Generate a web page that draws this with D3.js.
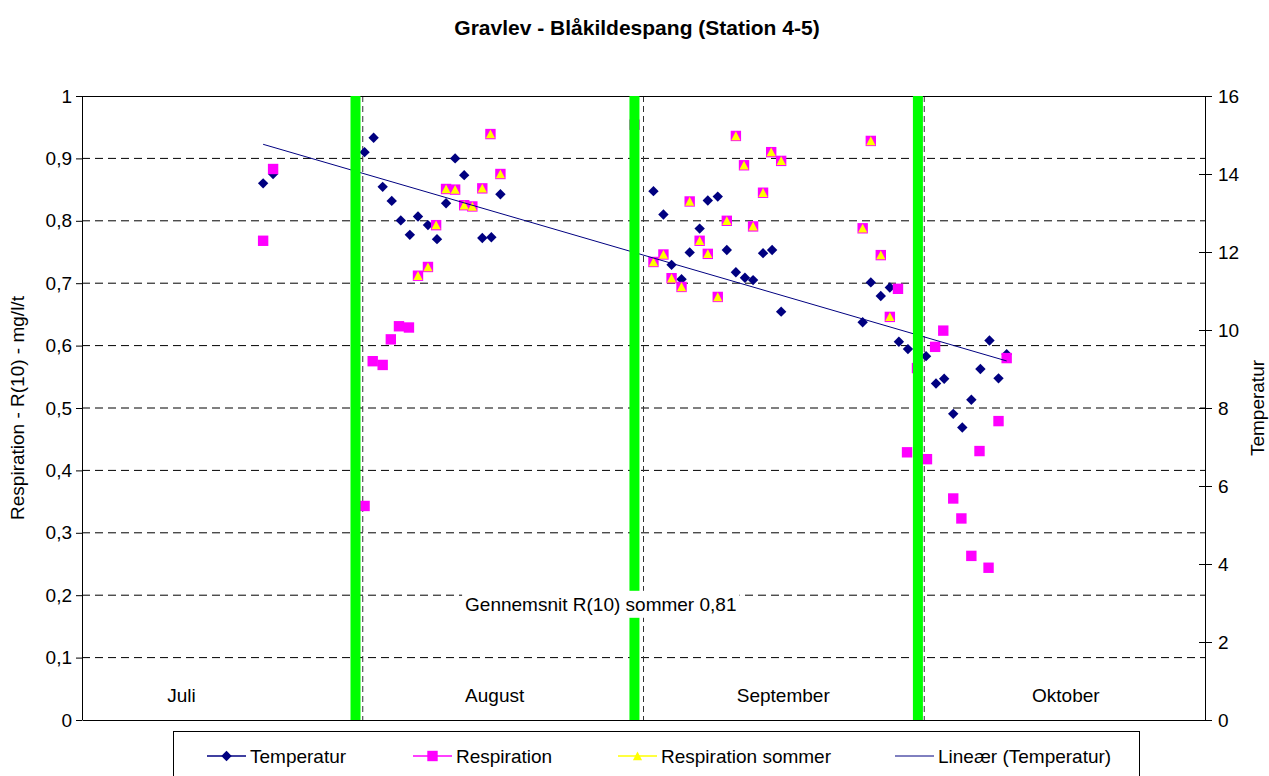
<!DOCTYPE html>
<html>
<head>
<meta charset="utf-8">
<script src="https://cdn.jsdelivr.net/npm/d3@7"></script>
<style>
  body { margin: 0; background: #fff; }
  text { font-family: "Liberation Sans", Arial, sans-serif; fill: #000; }
</style>
</head>
<body>
<div class="chart"></div>
<script>
// Data
// x is a day index where every month counts 31 days (Juli = 0..31, August = 31..62 ...)
const months = ["Juli", "August", "September", "Oktober"];
const monthLabelDay = [9.4, 42.3, 72.3, 104.9];
const monthBounds = [31, 62, 93];
const greenBarDays = [30.2, 61.0, 92.3];

const tempDays = [20.0, 21.1, 31.2, 32.2, 33.2, 34.2, 35.2, 36.2, 37.1, 38.2, 39.2, 40.2, 41.2, 42.2,
  44.2, 45.2, 46.2, 63.1, 64.2, 65.1, 66.2, 67.1, 68.2, 69.1, 70.2, 71.2, 72.2, 73.2, 74.1, 75.2,
  76.2, 77.2, 86.2, 87.1, 88.2, 89.2, 90.2, 91.2, 93.2, 94.3, 95.2, 96.2, 97.2, 98.2, 99.2, 100.2,
  101.2, 102.1];
const tempValues = [13.76, 14.0, 14.56, 14.93, 13.67, 13.31, 12.81, 12.44, 12.91, 12.69, 12.33, 13.25, 14.40, 13.97,
  12.36, 12.38, 13.48, 13.56, 12.96, 11.67, 11.30, 11.99, 12.60, 13.32, 13.42, 12.05, 11.48, 11.34, 11.28, 11.97,
  12.05, 10.47, 10.20, 11.22, 10.87, 11.09, 9.70, 9.51, 9.33, 8.63, 8.75, 7.85, 7.50, 8.21, 9.0, 9.73,
  8.76, 9.38];

const respDays = [20.0, 21.1, 31.2, 32.1, 33.2, 34.1, 35.0, 36.1, 37.1, 38.2, 39.1, 40.2, 41.2, 42.2, 43.1,
  44.2, 45.1, 46.2, 61.0, 63.1, 64.2, 65.1, 66.2, 67.1, 68.2, 69.1, 70.2, 71.2, 72.2, 73.1, 74.1, 75.2,
  76.1, 77.2, 86.2, 87.1, 88.2, 89.2, 90.1, 91.1, 92.2, 93.3, 94.2, 95.1, 96.2, 97.1, 98.2, 99.1,
  100.1, 101.2, 102.1];
const respValues = [0.768, 0.883, 0.343, 0.575, 0.569, 0.610, 0.631, 0.629, 0.712, 0.726, 0.793, 0.851, 0.850, 0.825, 0.823,
  0.852, 0.939, 0.875, 0.954, 0.734, 0.746, 0.708, 0.694, 0.831, 0.768, 0.747, 0.678, 0.800, 0.936, 0.889, 0.791, 0.845,
  0.910, 0.896, 0.788, 0.928, 0.745, 0.646, 0.691, 0.429, 0.564, 0.418, 0.598, 0.624, 0.355, 0.323, 0.263, 0.431,
  0.244, 0.479, 0.580];

const sommerDays = [37.1, 38.2, 39.1, 40.2, 41.2, 42.2, 43.1, 44.2, 45.1, 46.2,
  63.1, 64.2, 65.1, 66.2, 67.1, 68.2, 69.1, 70.2, 71.2, 72.2, 73.1, 74.1, 75.2, 76.1, 77.2,
  86.2, 87.1, 88.2, 89.2];
const sommerValues = [0.712, 0.726, 0.793, 0.851, 0.850, 0.825, 0.823, 0.852, 0.939, 0.875,
  0.734, 0.746, 0.708, 0.694, 0.831, 0.768, 0.747, 0.678, 0.800, 0.936, 0.889, 0.791, 0.845, 0.910, 0.896,
  0.788, 0.928, 0.745, 0.646];

const leftTicks = [0, 0.1, 0.2, 0.3, 0.4, 0.5, 0.6, 0.7, 0.8, 0.9, 1];
const rightTicks = [0, 2, 4, 6, 8, 10, 12, 14, 16];
const noteText = "Gennemsnit R(10) sommer 0,81";
const noteDay = 42.3, noteValue = 0.175;

// chart set up
const svgWidth = 1269;
const svgHeight = 776;
const margin = { top: 96, right: 64, bottom: 56, left: 82 };
const width = svgWidth - margin.left - margin.right;
const height = svgHeight - margin.top - margin.bottom;

const navy = "#000080", pink = "#ff00ff", yellow = "#ffff00", green = "#00ff00";

const svg = d3.select(".chart").append("svg")
  .attr("width", svgWidth)
  .attr("height", svgHeight);

svg.append("text")
  .attr("x", 637).attr("y", 35)
  .attr("text-anchor", "middle")
  .style("font-size", "21px").style("font-weight", "bold")
  .text("Gravlev - Blåkildespang (Station 4-5)");

const chartGroup = svg.append("g")
  .attr("transform", `translate(${margin.left}, ${margin.top})`);

const x = d3.scaleLinear().domain([0, 124]).range([0, width]);
const yLeft = d3.scaleLinear().domain([0, 1]).range([height, 0]);
const yRight = d3.scaleLinear().domain([0, 16]).range([height, 0]);

// horizontal gridlines
chartGroup.selectAll(".hgrid")
  .data(leftTicks.filter(t => t > 0 && t < 1))
  .enter().append("line")
  .attr("x1", 0).attr("x2", width)
  .attr("y1", d => yLeft(d)).attr("y2", d => yLeft(d))
  .attr("stroke", "#000").attr("stroke-dasharray", "8,5");

// month boundaries
chartGroup.selectAll(".vgrid")
  .data(monthBounds)
  .enter().append("line")
  .attr("x1", d => x(d)).attr("x2", d => x(d))
  .attr("y1", 0).attr("y2", height)
  .attr("stroke", "#333").attr("stroke-dasharray", "6,4");

// plot border top
chartGroup.append("line")
  .attr("x1", 0).attr("x2", width).attr("y1", 0.5).attr("y2", 0.5)
  .attr("stroke", "#000");

// axes
const leftAxis = d3.axisLeft(yLeft).tickValues(leftTicks).tickSize(6)
  .tickFormat(d => d3.format("")(d).replace(".", ","));
const rightAxis = d3.axisRight(yRight).tickValues(rightTicks).tickSize(7);
const bottomAxis = d3.axisBottom(x).tickValues([]).tickSizeOuter(0);

const gl = chartGroup.append("g").call(leftAxis);
const gr = chartGroup.append("g").attr("transform", `translate(${width},0)`).call(rightAxis);
chartGroup.append("g").attr("transform", `translate(0,${height})`).call(bottomAxis);

[gl, gr].forEach(g => {
  g.select(".domain").attr("d", `M0.5,0V${height}`);
  g.selectAll("text").style("font-size", "19px").attr("fill", "#000");
});
gl.selectAll(".tick text").attr("x", -10);
gr.selectAll(".tick line").attr("x1", -6).attr("x2", 7);
gr.selectAll(".tick text").attr("x", 13);

// axis titles
svg.append("text")
  .attr("transform", `translate(24, ${margin.top + height / 2}) rotate(-90)`)
  .attr("text-anchor", "middle")
  .style("font-size", "19px")
  .text("Respiration - R(10) - mg/l/t");
svg.append("text")
  .attr("transform", `translate(1264, ${margin.top + height / 2}) rotate(-90)`)
  .attr("text-anchor", "middle")
  .style("font-size", "19px")
  .text("Temperatur");

// markers
const diamond = "M0,-5.2L5.2,0L0,5.2L-5.2,0Z";
const square = "M-5.2,-5.2H5.2V5.2H-5.2Z";
const triangle = "M0,-4.6L4.6,4.2H-4.6Z";

chartGroup.selectAll(".temp")
  .data(tempDays)
  .enter().append("path")
  .attr("d", diamond)
  .attr("transform", (d, i) => `translate(${x(d)},${yRight(tempValues[i])})`)
  .attr("fill", navy);

chartGroup.selectAll(".resp")
  .data(respDays)
  .enter().append("path")
  .attr("d", square)
  .attr("transform", (d, i) => `translate(${x(d)},${yLeft(respValues[i])})`)
  .attr("fill", pink);

chartGroup.selectAll(".sommer")
  .data(sommerDays)
  .enter().append("path")
  .attr("d", triangle)
  .attr("transform", (d, i) => `translate(${x(d)},${yLeft(sommerValues[i])})`)
  .attr("fill", yellow);

// linear trend of temperature (least squares)
const mx = d3.mean(tempDays), my = d3.mean(tempValues);
const slope = d3.sum(tempDays, (d, i) => (d - mx) * (tempValues[i] - my)) / d3.sum(tempDays, d => (d - mx) * (d - mx));
const icpt = my - slope * mx;
const trendX = d3.extent(tempDays);
chartGroup.append("line")
  .attr("x1", x(trendX[0])).attr("y1", yRight(icpt + slope * trendX[0]))
  .attr("x2", x(trendX[1])).attr("y2", yRight(icpt + slope * trendX[1]))
  .attr("stroke", navy).attr("stroke-width", 1);

// green bars
chartGroup.selectAll(".bar")
  .data(greenBarDays)
  .enter().append("line")
  .attr("x1", d => x(d)).attr("x2", d => x(d))
  .attr("y1", 0).attr("y2", height)
  .attr("stroke", green).attr("stroke-width", 10);

// note with white box
const noteBox = chartGroup.append("rect").attr("fill", "#fff");
const note = chartGroup.append("text")
  .attr("x", x(noteDay)).attr("y", yLeft(noteValue))
  .style("font-size", "19px")
  .text(noteText);
const bb = note.node().getBBox();
noteBox
  .attr("x", bb.x - 3).attr("y", bb.y - 3)
  .attr("width", bb.width + 6).attr("height", bb.height + 6);

// month labels
chartGroup.selectAll(".month")
  .data(months)
  .enter().append("text")
  .attr("x", (d, i) => x(monthLabelDay[i]))
  .attr("y", height - 18)
  .style("font-size", "19px")
  .text(d => d);

// legend
const legend = svg.append("g");
legend.append("rect")
  .attr("x", 173.5).attr("y", 731.5).attr("width", 966).attr("height", 70)
  .attr("fill", "#fff").attr("stroke", "#000");

const legendItems = [
  { label: "Temperatur", x: 207, color: navy, mark: diamond },
  { label: "Respiration", x: 413, color: pink, mark: square },
  { label: "Respiration sommer", x: 618, color: yellow, mark: triangle },
  { label: "Lineær (Temperatur)", x: 895, color: navy, mark: null }
];
legendItems.forEach(it => {
  legend.append("line")
    .attr("x1", it.x).attr("x2", it.x + 39).attr("y1", 756).attr("y2", 756)
    .attr("stroke", it.color).attr("stroke-width", it.mark ? 1.5 : 1);
  if (it.mark) {
    legend.append("path").attr("d", it.mark)
      .attr("transform", `translate(${it.x + 19.5},756)`)
      .attr("fill", it.color);
  }
  legend.append("text")
    .attr("x", it.x + 43).attr("y", 763)
    .style("font-size", "19px")
    .text(it.label);
});
</script>
</body>
</html>
